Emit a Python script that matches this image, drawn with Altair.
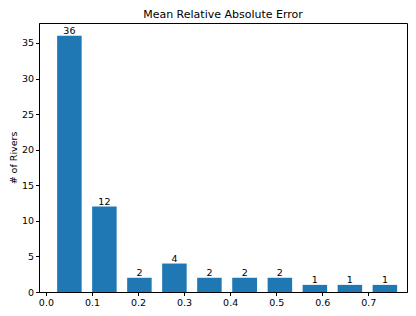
import altair as alt
import pandas as pd

bin_edges = [0.013, 0.089, 0.165, 0.241, 0.317, 0.393, 0.470, 0.546, 0.622, 0.698, 0.774]
counts = [36, 12, 2, 4, 2, 2, 2, 1, 1, 1]
x_ticks = [0.0, 0.1, 0.2, 0.3, 0.4, 0.5, 0.6, 0.7]
y_ticks = [0, 5, 10, 15, 20, 25, 30, 35]

rwidth = 0.7
rows = []
for i, c in enumerate(counts):
    lo, hi = bin_edges[i], bin_edges[i + 1]
    w = hi - lo
    pad = w * (1 - rwidth) / 2
    rows.append({"x0": lo + pad, "x1": hi - pad, "xc": (lo + hi) / 2, "count": c})
df = pd.DataFrame(rows)

xscale = alt.Scale(domain=[-0.015, 0.784], nice=False, zero=False)
yscale = alt.Scale(domain=[0, 37.8], nice=False)

bars = alt.Chart(df).mark_bar(color="#1f77b4").encode(
    x=alt.X("x0:Q", scale=xscale,
            axis=alt.Axis(values=x_ticks, format=".1f", title=None,
                          labelOverlap=False)),
    x2="x1:Q",
    y=alt.Y("count:Q", scale=yscale,
            axis=alt.Axis(values=y_ticks, title="# of Rivers",
                          labelOverlap=False, tickCount=8)),
    y2=alt.datum(0),
)

labels = alt.Chart(df).mark_text(
    baseline="bottom", align="center", dy=0, fontSize=9.5,
    font="DejaVu Sans", color="black"
).encode(
    x=alt.X("xc:Q", scale=xscale),
    y=alt.Y("count:Q", scale=yscale),
    text="count:Q",
)

chart = alt.layer(bars, labels).properties(
    width=368, height=269,
    title=alt.TitleParams("Mean Relative Absolute Error", fontSize=11,
                          font="DejaVu Sans", fontWeight="normal",
                          color="black", offset=3, anchor="middle"),
    autosize=alt.AutoSizeParams(type="none"),
    padding={"left": 31, "top": 15, "right": 1, "bottom": 16},
).configure_view(
    stroke="black", strokeWidth=1
).configure_axis(
    grid=False, domainColor="black", tickColor="black", labelColor="black",
    labelFont="DejaVu Sans", labelFontSize=9.5, tickSize=3.5, labelPadding=2,
    titleFont="DejaVu Sans", titleFontSize=9.5, titleFontWeight="normal",
    titleColor="black", titlePadding=3, domainWidth=1, tickWidth=1,
)

chart.save("out.html", embed_options={"renderer": "svg", "actions": False})
